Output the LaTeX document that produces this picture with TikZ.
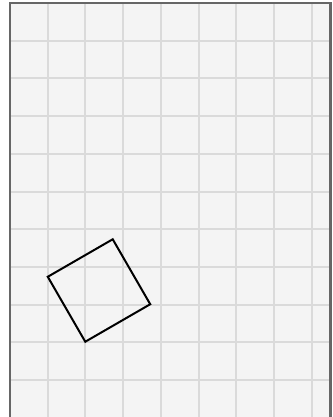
\documentclass[tikz,border=0pt]{standalone}
\definecolor{bgfill}{HTML}{F4F4F4}
\definecolor{gridcol}{HTML}{DADADA}
\definecolor{framecol}{HTML}{666666}
\tikzset{
  gridline/.style={draw=gridcol, line width=2pt},
  frameline/.style={draw=framecol, line width=2.5pt},
  tile/.style={draw=black, line width=2pt, minimum size=75pt, inner sep=0pt, outer sep=0pt, rotate=30}
}
\begin{document}
\begin{tikzpicture}[x=1pt,y=-1pt]
\useasboundingbox (0,0) rectangle (332,417);
\fill[white] (0,0) rectangle (332,417);
\fill[bgfill] (10,3) rectangle (330.5,420);
\foreach \k in {1,...,8} {
  \draw[gridline] ({10+37.7*\k},3) -- ({10+37.7*\k},420);
}
\foreach \k in {1,...,10} {
  \draw[gridline] (10,{3+37.7*\k}) -- (330.5,{3+37.7*\k});
}
\draw[frameline] (10,425) -- (10,3) -- (330.5,3) -- (330.5,425);
\node[tile] (sq) at (99,290.5) {};
\end{tikzpicture}
\end{document}
